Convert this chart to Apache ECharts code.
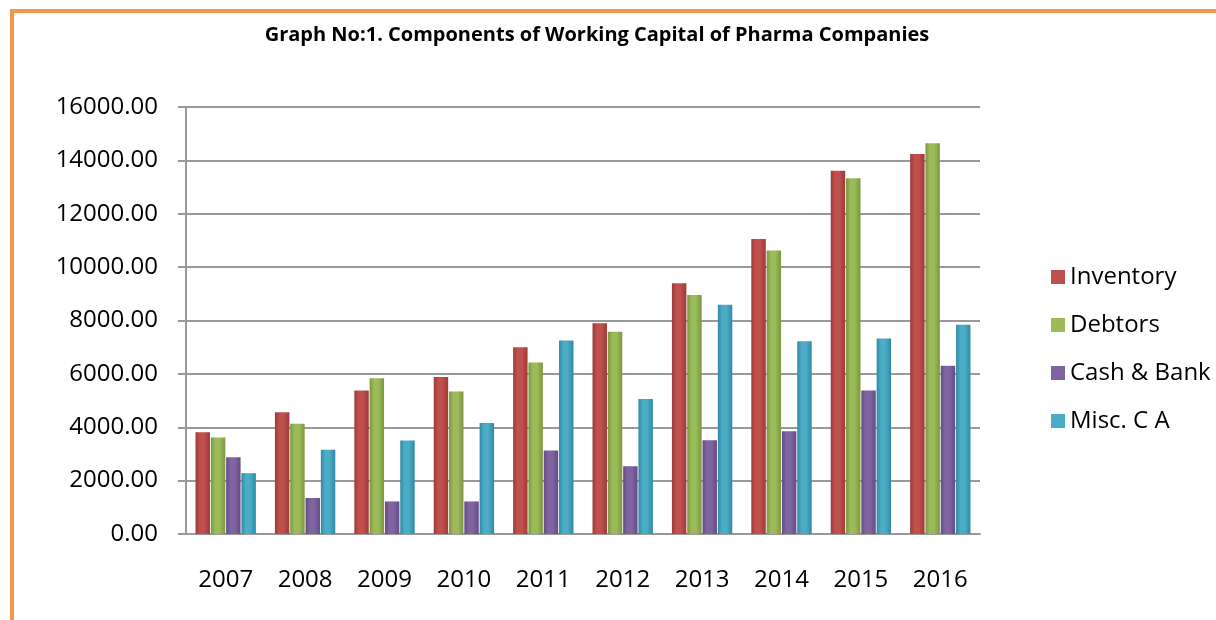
<!DOCTYPE html>
<html>
<head>
<meta charset="utf-8">
<script src="https://cdn.jsdelivr.net/npm/echarts@6/dist/echarts.min.js"></script>
<style>
  html, body { margin: 0; padding: 0; background: #fff; }
  #chart { width: 1216px; height: 620px; }
</style>
</head>
<body>
<div id="chart"></div>
<script>
const years = ['2007', '2008', '2009', '2010', '2011', '2012', '2013', '2014', '2015', '2016'];
const inventory = [3810, 4560, 5380, 5880, 7000, 7900, 9400, 11050, 13610, 14240];
const debtors = [3620, 4130, 5840, 5340, 6430, 7580, 8960, 10620, 13330, 14640];
const cashBank = [2880, 1350, 1220, 1220, 3130, 2540, 3510, 3850, 5380, 6300];
const miscCA = [2280, 3160, 3500, 4160, 7250, 5060, 8590, 7220, 7330, 7840];

const names = ['Inventory', 'Debtors', 'Cash & Bank', 'Misc. C A'];
const colors = ['#C0504D', '#9BBB59', '#8064A2', '#4BACC6'];
const darker = ['#9A3B38', '#7A9640', '#624C82', '#2F8AA3'];

// cylinder-ish shading for the 3D-looking columns
const shade = i => new echarts.graphic.LinearGradient(0, 0, 1, 0, [
    { offset: 0, color: darker[i] },
    { offset: 0.3, color: colors[i] },
    { offset: 0.6, color: colors[i] },
    { offset: 1, color: darker[i] }
]);

const chart = echarts.init(document.getElementById('chart'));

const series = [inventory, debtors, cashBank, miscCA].map((d, i) => ({
    name: names[i],
    type: 'bar',
    data: d,
    barGap: '6%',
    barCategoryGap: '24%',
    itemStyle: { color: shade(i) }
}));

chart.setOption({
    backgroundColor: '#fff',
    animation: false,
    color: colors,
    title: {
        text: 'Graph No:1. Components of Working Capital of Pharma Companies',
        left: 592,
        top: 20,
        textAlign: 'center',
        textStyle: { fontFamily: 'Open Sans', fontWeight: 'bold', fontSize: 20, color: '#000' }
    },
    legend: {
        orient: 'vertical',
        left: 1046,
        top: 260,
        itemWidth: 14,
        itemHeight: 14,
        itemGap: 24,
        icon: 'rect',
        textStyle: { fontFamily: 'Open Sans', fontSize: 24, color: '#000' },
        data: names.map((n, i) => ({ name: n, itemStyle: { color: colors[i] } }))
    },
    grid: { left: 186, right: 236, top: 107, bottom: 86 },
    xAxis: {
        type: 'category',
        data: years,
        axisLine: { lineStyle: { color: '#999', width: 2 } },
        axisTick: { length: 8, lineStyle: { color: '#999', width: 2 } },
        axisLabel: { margin: 34, fontFamily: 'Open Sans', fontSize: 24, color: '#000' }
    },
    yAxis: {
        type: 'value',
        min: 0,
        max: 16000,
        interval: 2000,
        axisLine: { show: true, lineStyle: { color: '#999', width: 2 } },
        axisTick: { show: true, length: 8, lineStyle: { color: '#999', width: 2 } },
        axisLabel: {
            margin: 28,
            fontFamily: 'Open Sans', fontSize: 24, color: '#000',
            formatter: v => v.toFixed(2)
        },
        splitLine: { lineStyle: { color: '#999', width: 2 } }
    },
    graphic: [{
        type: 'rect',
        shape: { x: 12, y: 11, width: 1300, height: 700 },
        style: { fill: 'none', stroke: '#F79646', lineWidth: 4 },
        silent: true
    }],
    series: series
});
</script>
</body>
</html>
